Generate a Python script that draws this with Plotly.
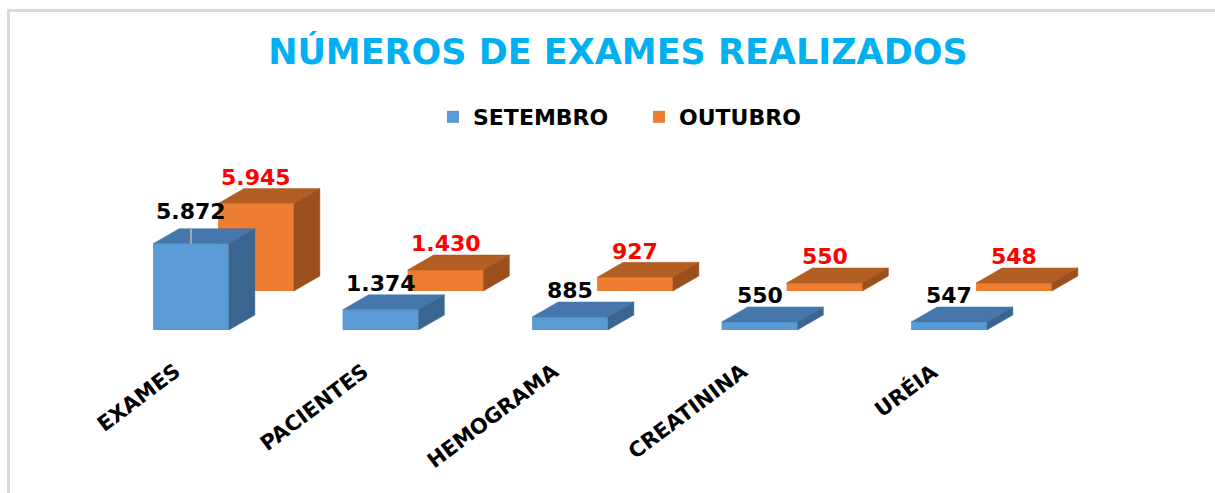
import plotly.graph_objects as go

categories = ["EXAMES", "PACIENTES", "HEMOGRAMA", "CREATININA", "URÉIA"]
setembro = [5872, 1374, 885, 550, 547]
outubro = [5945, 1430, 927, 550, 548]
series_names = ["SETEMBRO", "OUTUBRO"]

# styling / geometry (oblique 3D projection)
FRONT = ["#5B9BD5", "#ED7D31"]
TOP = ["#4677AC", "#B35E22"]
SIDE = ["#3A6590", "#9A4F1C"]
LABEL_COLORS = ["#000000", "#FF0000"]
BAR_W = 0.40
DEPTH_DX, DEPTH_DY = 0.137, 1020      # bar depth offset
SERIES_DX, SERIES_DY = 0.343, 2652    # offset of back series
FONT = "DejaVu Sans"

fig = go.Figure()

def fmt(v):
    return f"{v:,}".replace(",", ".")

series = [setembro, outubro]
# draw back series first
for s in [1, 0]:
    vals = series[s]
    xs = [i + s * SERIES_DX for i in range(len(categories))]
    base = s * SERIES_DY
    fig.add_trace(go.Bar(
        x=xs, y=vals, base=[base] * len(vals), width=BAR_W,
        name=series_names[s], marker=dict(color=FRONT[s], line=dict(width=0)),
        hoverinfo="skip", legendrank=s + 1,
    ))
for s in [1, 0]:
    vals = series[s]
    base = s * SERIES_DY
    tx, ty, sx, sy = [], [], [], []
    for i, v in enumerate(vals):
        xl = i + s * SERIES_DX - BAR_W / 2
        xr = xl + BAR_W
        top = base + v
        tx += [xl, xr, xr + DEPTH_DX, xl + DEPTH_DX, xl, None]
        ty += [top, top, top + DEPTH_DY, top + DEPTH_DY, top, None]
        sx += [xr, xr, xr + DEPTH_DX, xr + DEPTH_DX, xr, None]
        sy += [base, top, top + DEPTH_DY, base + DEPTH_DY, base, None]
    fig.add_trace(go.Scatter(x=tx, y=ty, mode="lines", fill="toself",
                             fillcolor=TOP[s], line=dict(color=TOP[s], width=0.5),
                             showlegend=False, hoverinfo="skip"))
    fig.add_trace(go.Scatter(x=sx, y=sy, mode="lines", fill="toself",
                             fillcolor=SIDE[s], line=dict(color=SIDE[s], width=0.5),
                             showlegend=False, hoverinfo="skip"))

annotations = []
shapes = []
for s in [0, 1]:
    vals = series[s]
    base = s * SERIES_DY
    for i, v in enumerate(vals):
        xc = i + s * SERIES_DX
        shift = 11
        if s == 0 and v > SERIES_DY:
            # label lifted above the back bar, with a leader line
            shift = 17
            shapes.append(dict(type="line", xref="x", yref="y",
                               x0=xc, x1=xc, y0=v, y1=v + DEPTH_DY,
                               line=dict(color="#A6A6A6", width=2)))
        annotations.append(dict(
            x=xc, y=base + v + DEPTH_DY, xref="x", yref="y",
            text=fmt(v), showarrow=False, yanchor="middle", yshift=shift,
            font=dict(family=FONT, size=22, color=LABEL_COLORS[s], weight="bold"),
        ))

for i, c in enumerate(categories):
    annotations.append(dict(
        x=i - 0.021, y=-1768, xref="x", yref="y", text=c, showarrow=False,
        xanchor="right", yanchor="top", textangle=-37,
        font=dict(family=FONT, size=21, color="#000000", weight="bold"),
    ))

shapes.append(dict(type="rect", xref="paper", yref="paper",
                   x0=8.5 / 1215, y0=-0.05, x1=1.05, y1=1 - 10.5 / 493,
                   line=dict(color="#D9D9D9", width=3), layer="below"))

fig.update_layout(
    width=1215, height=493,
    margin=dict(l=0, r=0, t=0, b=0),
    paper_bgcolor="white", plot_bgcolor="white",
    title=dict(text="NÚMEROS DE EXAMES REALIZADOS", x=0.5086, xanchor="center",
               y=1 - 52 / 493, yanchor="middle",
               font=dict(family=FONT, size=35, color="#00B0F0", weight="bold")),
    legend=dict(orientation="h", x=(448 - 15) / 1215, xanchor="left", y=1 - 117 / 493,
                yanchor="middle", entrywidth=161, entrywidthmode="pixels",
                font=dict(family=FONT, size=22, color="#000000", weight="bold"),
                bgcolor="rgba(0,0,0,0)", traceorder="normal"),
    xaxis=dict(range=[-191 / 189.5, (1215 - 191) / 189.5], visible=False, fixedrange=True),
    yaxis=dict(range=[-(493 - 330) * 68, 330 * 68], visible=False, fixedrange=True),
    barmode="overlay",
    annotations=annotations,
    shapes=shapes,
    showlegend=True,
)

fig.write_html("out.html", config={"displayModeBar": False},
               post_script="document.body.style.margin='0px';document.body.style.overflow='hidden';")
